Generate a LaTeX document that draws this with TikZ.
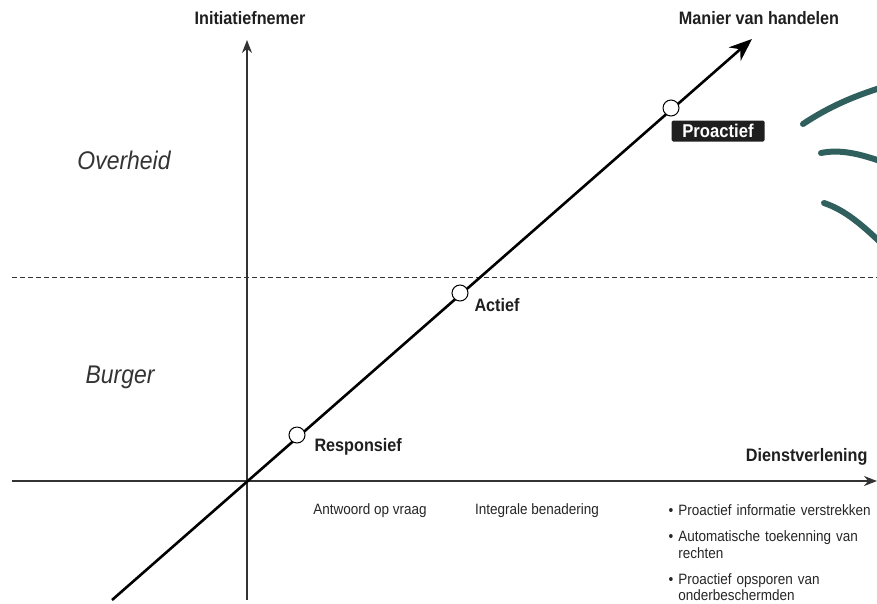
\documentclass[tikz,border=0pt]{standalone}
\usepackage{fontspec}
\setmainfont{Liberation Sans}[FakeStretch=0.9]
\usetikzlibrary{arrows.meta}
\definecolor{axisgrey}{HTML}{333333}
\definecolor{tealstroke}{HTML}{2F605E}
\tikzset{
  axislabel/.style={font=\fontsize{18}{20}\selectfont\bfseries, text=black!88},
  steplabel/.style={font=\fontsize{18}{20}\selectfont\bfseries, text=black!88, anchor=west},
  sidelabel/.style={font=\fontsize{25.5}{28}\selectfont\itshape, text=black!80},
  smalllabel/.style={font=\fontsize{15}{16.5}\selectfont, text=black!85},
  stepdot/.style={circle, draw=black, fill=white, line width=1pt, minimum size=16pt, inner sep=0pt},
  tealline/.style={draw=tealstroke, line width=6pt, line cap=round}
}
\begin{document}
\begin{tikzpicture}[x=1pt,y=-1pt]
\useasboundingbox (0,0) rectangle (877,603);
% axes
\coordinate (xstart) at (12,481);
\coordinate (xend) at (877,481);
\coordinate (ystart) at (247,600);
\coordinate (yend) at (247,40);
\coordinate (dstart) at (112,600);
\coordinate (dend) at (752,39);
\coordinate (hstart) at (12,277);
\coordinate (hend) at (877,277);
\draw[axisgrey, line width=1.8pt, -{Stealth[length=13pt,width=10pt]}] (xstart) -- (xend);
\draw[axisgrey, line width=1.5pt, -{Stealth[length=13pt,width=10pt]}] (ystart) -- (yend);
\draw[axisgrey, dashed, line width=0.8pt, dash pattern=on 5pt off 3pt] (hstart) -- (hend);
\draw[black, line width=2.6pt, -{Stealth[length=23pt,width=18pt]}] (dstart) -- (dend);
% axis labels
\node[axislabel] (initiatief) at (250,18) {Initiatiefnemer};
\node[axislabel] (manier) at (759,18) {Manier van handelen};
\node[axislabel, anchor=east] (dienst) at (871,457) {Dienstverlening};
\node[sidelabel] (overheid) at (124,160) {Overheid};
\node[sidelabel] (burger) at (120,377) {Burger};
% steps on the diagonal
\node[stepdot] (responsief) at (297,435) {};
\node[stepdot] (actief) at (460,293) {};
\node[stepdot] (proactief) at (671,108) {};
\node[steplabel] (responsieflbl) at (311,447) {Responsief};
\node[steplabel] (actieflbl) at (471,305) {Actief};
\node[fill=black!88, rounded corners=1.5pt, text=white, font=\fontsize{18.5}{20}\selectfont\bfseries,
  minimum width=93pt, minimum height=21pt, inner sep=0pt] (proactieflbl) at (718,131) {Proactief};
% texts below the axis
\node[smalllabel] (antwoord) at (370,511) {Antwoord op vraag};
\node[smalllabel] (integraal) at (537,511) {Integrale benadering};
\node[smalllabel, anchor=north west, align=left, text width=220pt] (lijst) at (665,501)
  {\textbullet\ Proactief informatie verstrekken\\[10pt]
   \textbullet\ Automatische toekenning van\\
   \phantom{\textbullet\ }rechten\\[9.5pt]
   \textbullet\ Proactief opsporen van\\
   \phantom{\textbullet\ }onderbeschermden};
% hand-drawn strokes
\draw[tealline] (803,124) .. controls (830,106) and (855,96) .. (880,88);
\draw[tealline] (821,153) .. controls (840,149) and (860,154) .. (880,161);
\draw[tealline] (824,203) .. controls (845,210) and (862,225) .. (880,242);
\end{tikzpicture}
\end{document}
